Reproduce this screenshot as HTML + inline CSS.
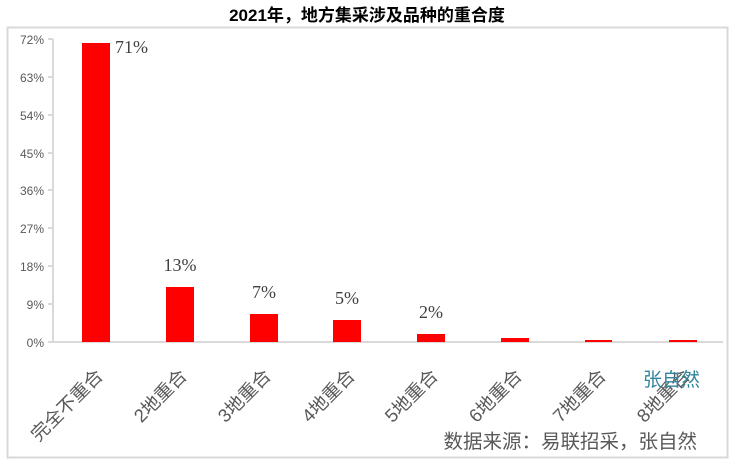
<!DOCTYPE html>
<html><head><meta charset="utf-8"><style>
body{margin:0;background:#fff;width:735px;height:465px;overflow:hidden;font-family:"Liberation Sans","Noto Sans CJK SC",sans-serif;}
</style></head><body>
<svg width="735" height="465" xmlns="http://www.w3.org/2000/svg" font-family="Liberation Sans, Noto Sans CJK SC, sans-serif">
<rect x="0" y="0" width="735" height="465" fill="#fff"/>
<text x="367" y="21" text-anchor="middle" font-size="17" font-weight="bold" fill="#000">2021年，地方集采涉及品种的重合度</text>
<rect x="7.5" y="27.5" width="720" height="430" fill="none" stroke="#d9d9d9" stroke-width="2"/>
<g stroke="#d9d9d9" stroke-width="2">
<line x1="53" y1="39" x2="53" y2="343"/>
<line x1="53" y1="342" x2="723" y2="342"/>
<line x1="48" y1="39" x2="53" y2="39"/><line x1="48" y1="77" x2="53" y2="77"/><line x1="48" y1="115" x2="53" y2="115"/><line x1="48" y1="153" x2="53" y2="153"/><line x1="48" y1="190" x2="53" y2="190"/><line x1="48" y1="228" x2="53" y2="228"/><line x1="48" y1="266" x2="53" y2="266"/><line x1="48" y1="304" x2="53" y2="304"/><line x1="48" y1="342" x2="53" y2="342"/>
</g>
<g font-size="12" fill="#595959" text-anchor="end">
<text x="44" y="44">72%</text><text x="44" y="82">63%</text><text x="44" y="120">54%</text><text x="44" y="158">45%</text><text x="44" y="195">36%</text><text x="44" y="233">27%</text><text x="44" y="271">18%</text><text x="44" y="309">9%</text><text x="44" y="347">0%</text>
</g>
<g fill="#ff0000">
<rect x="82" y="43" width="28" height="299"/>
<rect x="166" y="287" width="28" height="55"/>
<rect x="250" y="314" width="28" height="28"/>
<rect x="333" y="320" width="28" height="22"/>
<rect x="417" y="334" width="28" height="8"/>
<rect x="501" y="338" width="28" height="4"/>
<rect x="585" y="340" width="27" height="2"/>
<rect x="669" y="340" width="28" height="2"/>
</g>
<g font-size="18" fill="#404040" font-family="Liberation Serif, serif">
<text x="115" y="53">71%</text>
<text x="180" y="271" text-anchor="middle">13%</text>
<text x="264" y="298" text-anchor="middle">7%</text>
<text x="347" y="304" text-anchor="middle">5%</text>
<text x="431" y="318" text-anchor="middle">2%</text>
</g>
<g font-size="18.5" fill="#595959" text-anchor="end">
<text transform="translate(104,377) rotate(-45)">完全不重合</text>
<text transform="translate(188,377) rotate(-45)">2地重合</text>
<text transform="translate(272,377) rotate(-45)">3地重合</text>
<text transform="translate(356,377) rotate(-45)">4地重合</text>
<text transform="translate(439,377) rotate(-45)">5地重合</text>
<text transform="translate(523,377) rotate(-45)">6地重合</text>
<text transform="translate(607,377) rotate(-45)">7地重合</text>
<text transform="translate(691,377) rotate(-45)">8地重合</text>
</g>
<text x="643" y="386" font-size="19" fill="#31859c">张自然</text>
<text x="697" y="448" font-size="19.5" fill="#595959" text-anchor="end">数据来源：易联招采，张自然</text>
</svg>
</body></html>
